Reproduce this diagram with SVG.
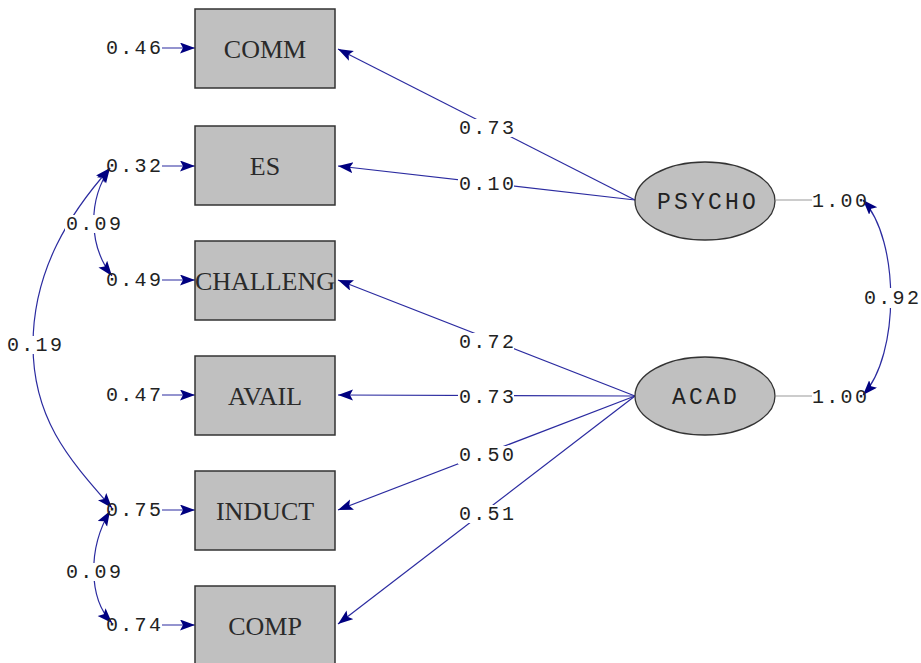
<svg xmlns="http://www.w3.org/2000/svg" width="921" height="663" viewBox="0 0 921 663">
<style>
.box{fill:#c0c0c0;stroke:#333;stroke-width:1.5}
.lat{fill:#c0c0c0;stroke:#333;stroke-width:1.3}
.bl{font-family:"Liberation Serif",serif;font-size:26px;fill:#2a2a2a;text-anchor:middle}
.ll{font-family:"Liberation Mono",monospace;font-size:23px;letter-spacing:3.2px;fill:#222}
.num{font-family:"Liberation Mono",monospace;font-size:20px;letter-spacing:2.3px;fill:#222}
.ln{stroke:#2b2ba0;stroke-width:1.2;fill:none}
.gr{stroke:#bbb;stroke-width:1.5;fill:none}
.bg{fill:#fff}
</style>
<defs>
<marker id="ah" markerUnits="userSpaceOnUse" markerWidth="18" markerHeight="14" refX="15" refY="5.5" orient="auto-start-reverse">
<path d="M0,0 L15,5.5 L0,11 L3,5.5 z" fill="#000080"/>
</marker>
</defs>
<rect width="921" height="663" fill="#fff"/>
<g id="connectors">
<line class="ln" x1="162" y1="48" x2="195" y2="48" marker-end="url(#ah)"/>
<line class="ln" x1="162" y1="166" x2="195" y2="166" marker-end="url(#ah)"/>
<line class="ln" x1="162" y1="280" x2="195" y2="280" marker-end="url(#ah)"/>
<line class="ln" x1="162" y1="395" x2="195" y2="395" marker-end="url(#ah)"/>
<line class="ln" x1="162" y1="510" x2="195" y2="510" marker-end="url(#ah)"/>
<line class="ln" x1="162" y1="625" x2="195" y2="625" marker-end="url(#ah)"/>
<line class="ln" x1="635" y1="200" x2="338" y2="49" marker-end="url(#ah)"/>
<line class="ln" x1="635" y1="200" x2="338" y2="166" marker-end="url(#ah)"/>
<line class="ln" x1="635" y1="396" x2="338" y2="280" marker-end="url(#ah)"/>
<line class="ln" x1="635" y1="396" x2="338" y2="395" marker-end="url(#ah)"/>
<line class="ln" x1="635" y1="396" x2="338" y2="510" marker-end="url(#ah)"/>
<line class="ln" x1="635" y1="396" x2="338" y2="624" marker-end="url(#ah)"/>
<line class="gr" x1="776" y1="200" x2="812" y2="200"/>
<line class="gr" x1="776" y1="396" x2="812" y2="396"/>
<path class="ln" d="M863,200 C900,240 900,355 863,395" marker-start="url(#ah)" marker-end="url(#ah)"/>
<path class="ln" d="M110,168 C88,200 88,245 112,276" marker-start="url(#ah)" marker-end="url(#ah)"/>
<path class="ln" d="M110,511 C88,548 88,598 112,623" marker-start="url(#ah)" marker-end="url(#ah)"/>
<path class="ln" d="M110,168 C70,213 33,270 33,345 C33,420 70,460 112,508" marker-start="url(#ah)" marker-end="url(#ah)"/>
<g id="labels">
<rect class="bg" x="458" y="119" width="56" height="18"/><text class="num" x="459" y="134">0.73</text>
<rect class="bg" x="458" y="175" width="56" height="18"/><text class="num" x="459" y="190">0.10</text>
<rect class="bg" x="458" y="333" width="56" height="18"/><text class="num" x="459" y="348">0.72</text>
<rect class="bg" x="458" y="388" width="56" height="18"/><text class="num" x="459" y="403">0.73</text>
<rect class="bg" x="458" y="446" width="56" height="18"/><text class="num" x="459" y="461">0.50</text>
<rect class="bg" x="458" y="505" width="56" height="18"/><text class="num" x="459" y="520">0.51</text>
<rect class="bg" x="864" y="288" width="57" height="20"/><text class="num" style="letter-spacing:0" x="864 878.3 892.6 906.9" y="304">0.92</text>
<rect class="bg" x="65" y="215" width="56" height="18"/><text class="num" x="66" y="230">0.09</text>
<rect class="bg" x="65" y="563" width="56" height="18"/><text class="num" x="66" y="578">0.09</text>
<rect class="bg" x="6" y="336" width="56" height="18"/><text class="num" x="7" y="351">0.19</text>
<text class="num" x="106" y="54">0.46</text>
<text class="num" x="106" y="172">0.32</text>
<text class="num" x="106" y="286">0.49</text>
<text class="num" x="106" y="401">0.47</text>
<text class="num" x="106" y="516">0.75</text>
<text class="num" x="106" y="631">0.74</text>
<text class="num" x="812" y="207">1.00</text>
<text class="num" x="812" y="403">1.00</text>
</g>
</g>
<g id="COMM"><rect class="box" x="195" y="9" width="140" height="79"/><text class="bl" x="265" y="58">COMM</text></g>
<g id="ES"><rect class="box" x="195" y="126" width="140" height="79"/><text class="bl" x="265" y="175">ES</text></g>
<g id="CHALLENG"><rect class="box" x="195" y="241" width="140" height="79"/><text class="bl" x="265" y="290">CHALLENG</text></g>
<g id="AVAIL"><rect class="box" x="195" y="356" width="140" height="79"/><text class="bl" x="265" y="405">AVAIL</text></g>
<g id="INDUCT"><rect class="box" x="195" y="471" width="140" height="79"/><text class="bl" x="265" y="520">INDUCT</text></g>
<g id="COMP"><rect class="box" x="195" y="586" width="140" height="79"/><text class="bl" x="265" y="635">COMP</text></g>
<g id="PSYCHO"><ellipse class="lat" cx="705" cy="201" rx="70" ry="39"/><text class="ll" x="657" y="209">PSYCHO</text></g>
<g id="ACAD"><ellipse class="lat" cx="705" cy="396" rx="70" ry="39"/><text class="ll" x="672" y="404">ACAD</text></g>
</svg>
